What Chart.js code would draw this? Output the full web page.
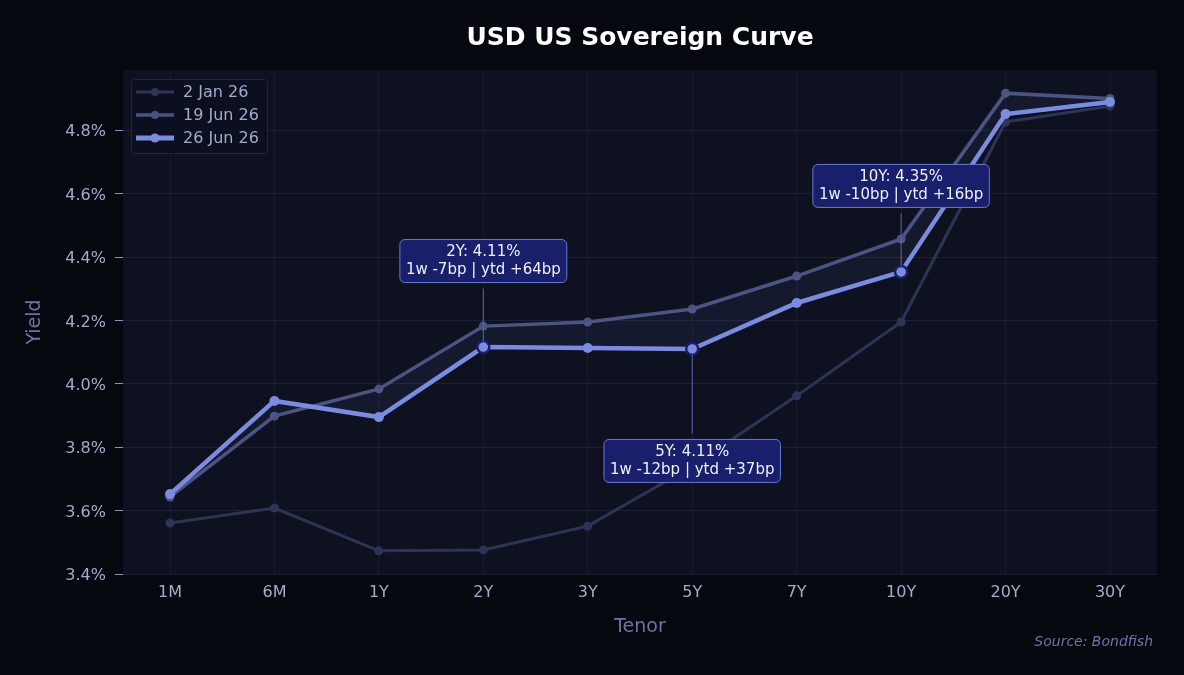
<!DOCTYPE html>
<html>
  <head>
    <title>USD US Sovereign Curve</title>
    <style>
      html, body { margin: 0; padding: 0; background: #05080f; }
      #wrap { width: 1184px; height: 675px; }
    </style>
  </head>
  <body>
    <div id="wrap"><canvas id="curveChart"></canvas></div>

    <script src="https://cdn.jsdelivr.net/npm/chart.js"></script>
    <script>
      // Datos de la curva
      var tenors = ["1M", "6M", "1Y", "2Y", "3Y", "5Y", "7Y", "10Y", "20Y", "30Y"];
      var jan02 = [3.561, 3.608, 3.473, 3.476, 3.551, 3.74, 3.962, 4.195, 4.826, 4.876];
      var jun19 = [3.643, 3.898, 3.984, 4.182, 4.195, 4.236, 4.34, 4.457, 4.917, 4.9];
      var jun26 = [3.652, 3.946, 3.895, 4.116, 4.113, 4.11, 4.255, 4.353, 4.851, 4.889];
      var seriesNames = ["2 Jan 26", "19 Jun 26", "26 Jun 26"];
      var yTicks = [3.4, 3.6, 3.8, 4.0, 4.2, 4.4, 4.6, 4.8];

      // Anotaciones
      var annoIdx = [3, 5, 7];
      var annoLine1 = ["2Y: 4.11%", "5Y: 4.11%", "10Y: 4.35%"];
      var annoLine2 = ["1w -7bp | ytd +64bp", "1w -12bp | ytd +37bp", "1w -10bp | ytd +16bp"];
      var annoDy = [-86, 112, -86];

      var colors = ["#2f3456", "#4a537e", "#7b8ce0"];
      var FONT = "'DejaVu Sans', sans-serif";

      function pts(arr) {
        return arr.map(function (v, i) { return { x: i, y: v }; });
      }

      var bgPlugin = {
        id: "bg",
        beforeDraw: function (chart) {
          var c = chart.ctx, a = chart.chartArea;
          c.save();
          c.fillStyle = "#05080f";
          c.fillRect(0, 0, chart.width, chart.height);
          c.fillStyle = "#0d1120";
          c.fillRect(a.left, a.top, a.right - a.left, a.bottom - a.top);
          c.restore();
        },
        afterDraw: function (chart) {
          var c = chart.ctx, a = chart.chartArea;
          var xs = chart.scales.x, ys = chart.scales.y;
          c.save();
          // titulo
          c.fillStyle = "#ffffff";
          c.font = "bold 25px " + FONT;
          c.textAlign = "center";
          c.textBaseline = "middle";
          c.fillText("USD US Sovereign Curve", (a.left + a.right) / 2, 38);

          // fuente
          c.fillStyle = "#6b75a8";
          c.font = "italic 14px " + FONT;
          c.textAlign = "right";
          c.fillText("Source: Bondfish", 1153, 642);

          // leyenda
          c.fillStyle = "rgba(12,16,32,0.9)";
          c.strokeStyle = "#1f2440";
          c.lineWidth = 1;
          c.beginPath();
          c.roundRect(131.5, 79.5, 136, 74, 3);
          c.fill();
          c.stroke();
          var widths = [3, 3.5, 5];
          for (var i = 0; i < 3; i++) {
            var yy = 92 + i * 23;
            c.strokeStyle = colors[i];
            c.lineWidth = widths[i];
            c.beginPath();
            c.moveTo(136, yy);
            c.lineTo(174, yy);
            c.stroke();
            c.fillStyle = colors[i];
            c.beginPath();
            c.arc(155, yy, i == 2 ? 4.5 : 4, 0, Math.PI * 2);
            c.fill();
            c.fillStyle = "#a3abcb";
            c.font = "16px " + FONT;
            c.textAlign = "left";
            c.fillText(seriesNames[i], 183, yy + 1);
          }

          // anotaciones
          c.font = "15px " + FONT;
          for (var k = 0; k < annoIdx.length; k++) {
            var px = xs.getPixelForValue(annoIdx[k]);
            var py = ys.getPixelForValue(jun26[annoIdx[k]]);
            var cy = py + annoDy[k];
            var w = Math.max(c.measureText(annoLine1[k]).width, c.measureText(annoLine2[k]).width) + 12;
            var h = 43;
            // conector
            c.strokeStyle = "#5b66a8";
            c.lineWidth = 1;
            c.beginPath();
            if (annoDy[k] < 0) {
              c.moveTo(px, cy + h / 2 + 6);
              c.lineTo(px, py - 6);
            } else {
              c.moveTo(px, py + 6);
              c.lineTo(px, cy - h / 2 - 6);
            }
            c.stroke();
            c.fillStyle = "#1a1f6b";
            c.strokeStyle = "#6b78d0";
            c.beginPath();
            c.roundRect(px - w / 2, cy - h / 2, w, h, 5);
            c.fill();
            c.stroke();
            c.fillStyle = "#eef0ff";
            c.textAlign = "center";
            c.fillText(annoLine1[k], px, cy - 9);
            c.fillText(annoLine2[k], px, cy + 9);
          }
          c.restore();
        },
      };

      function isHi(ctx) {
        return annoIdx.indexOf(ctx.dataIndex) >= 0;
      }

      new Chart(document.getElementById("curveChart"), {
        type: "line",
        data: {
          datasets: [
            {
              label: seriesNames[0],
              data: pts(jan02),
              borderColor: colors[0],
              backgroundColor: colors[0],
              borderWidth: 3,
              pointRadius: 4.5,
              pointBorderWidth: 0,
              order: 3,
              fill: false,
            },
            {
              label: seriesNames[1],
              data: pts(jun19),
              borderColor: colors[1],
              backgroundColor: colors[1],
              borderWidth: 3.5,
              pointRadius: 4.5,
              pointBorderWidth: 0,
              order: 2,
              fill: false,
            },
            {
              label: seriesNames[2],
              data: pts(jun26),
              borderColor: colors[2],
              backgroundColor: "rgba(123,140,224,0.07)",
              pointBackgroundColor: colors[2],
              borderWidth: 4.5,
              pointRadius: function (ctx) { return isHi(ctx) ? 6 : 5; },
              pointBorderWidth: function (ctx) { return isHi(ctx) ? 2.5 : 0; },
              pointBorderColor: "#1a1f6b",
              order: 1,
              fill: { target: 1, above: "rgba(123,140,224,0.07)", below: "rgba(123,140,224,0.07)" },
            },
          ],
        },
        options: {
          responsive: true,
          maintainAspectRatio: false,
          animation: false,
          layout: { padding: { top: 70, right: 27, left: 0, bottom: 0 } },
          plugins: {
            legend: { display: false },
            title: { display: false },
            tooltip: { enabled: false },
          },
          scales: {
            x: {
              type: "linear",
              min: -0.45,
              max: 9.45,
              afterBuildTicks: function (scale) {
                scale.ticks = tenors.map(function (t, i) { return { value: i }; });
              },
              afterFit: function (scale) { scale.height = 101; },
              ticks: {
                color: "#a3abcb",
                font: { family: FONT, size: 16 },
                padding: 9,
                maxRotation: 0,
                callback: function (v) { return tenors[v]; },
              },
              grid: { color: "rgba(40,46,80,0.35)", drawTicks: false },
              border: { display: false },
              title: {
                display: true,
                text: "Tenor",
                color: "#6b75a0",
                font: { family: FONT, size: 19 },
                padding: { top: 0, bottom: 37 },
              },
            },
            y: {
              min: 3.4,
              max: 4.99,
              afterBuildTicks: function (scale) {
                scale.ticks = yTicks.map(function (v) { return { value: v }; });
              },
              afterFit: function (scale) { scale.width = 123; },
              ticks: {
                color: "#a3abcb",
                font: { family: FONT, size: 16 },
                padding: 9,
                labelOffset: 2,
                callback: function (v) { return v.toFixed(1) + "%"; },
              },
              grid: { color: "rgba(40,46,80,0.55)", tickColor: "#8c93b3", tickLength: 8 },
              border: { display: false },
              title: {
                display: true,
                text: "Yield",
                color: "#6b75a0",
                font: { family: FONT, size: 19 },
                padding: { top: 24, bottom: 0 },
              },
            },
          },
        },
        plugins: [bgPlugin],
      });
    </script>
  </body>
</html>
